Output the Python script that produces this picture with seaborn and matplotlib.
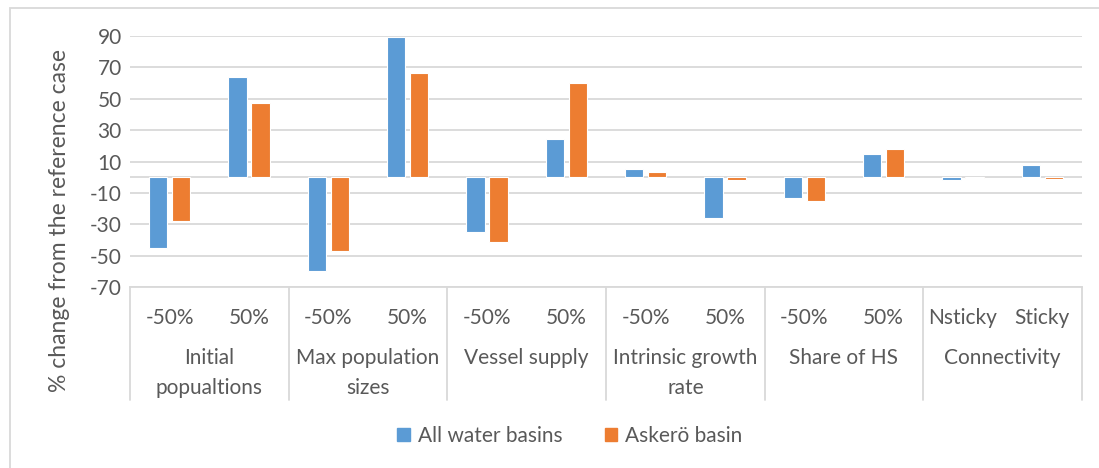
import numpy as np
import pandas as pd
import matplotlib
matplotlib.use("Agg")
import matplotlib.pyplot as plt
import matplotlib.patches as mpatches
import seaborn as sns

# Sensitivity analysis: % change from the reference case
groups = ["Initial\npopualtions", "Max population\nsizes", "Vessel supply",
          "Intrinsic growth\nrate", "Share of HS", "Connectivity"]
levels = ["-50%", "50%", "-50%", "50%", "-50%", "50%",
          "-50%", "50%", "-50%", "50%", "Nsticky", "Sticky"]
all_basins = [-45, 64, -60, 89.5, -35, 24.5, 5.5, -26, -13.5, 15, -2, 7.5]
askero = [-28, 47.5, -47, 66.5, -41.5, 60, 3, -2, -15, 18, -0.3, -1.2]
series = ["All water basins", "Askerö basin"]
colors = ["#5B9BD5", "#ED7D31"]

sns.set_theme(style="white")
plt.rcParams["font.family"] = ["Lato", "DejaVu Sans"]
plt.rcParams["axes.unicode_minus"] = False
TXT = "#595959"
GRID = "#d9d9d9"
FS = 15

slots = [f"{i:02d}" for i in range(len(levels))]
df = pd.DataFrame({
    "slot": slots * 2,
    "series": [series[0]] * len(slots) + [series[1]] * len(slots),
    "value": all_basins + askero,
})

fig = plt.figure(figsize=(10.99, 4.68), dpi=100)
W, H = 1099, 468
ax = fig.add_axes([130 / W, 1 - 287 / H, (1082 - 130) / W, (287 - 36) / H])

sns.barplot(data=df, x="slot", y="value", hue="series", order=slots,
            hue_order=series, palette=colors, width=0.58, gap=0.2,
            edgecolor="white", linewidth=0.8, saturation=1, ax=ax,
            legend=False, zorder=3)

ax.set_xlim(-0.5, len(slots) - 0.5)
ax.set_ylim(-70, 90)
ax.set_yticks(np.arange(-70, 91, 20))
ax.yaxis.grid(True, color=GRID, linewidth=1.3, zorder=0)
ax.axhline(0, color=GRID, linewidth=1.3, zorder=1)
for s in ["top", "right", "left"]:
    ax.spines[s].set_visible(False)
ax.spines["bottom"].set_color(GRID)
ax.spines["bottom"].set_linewidth(1.3)

ax.set_xticks(range(len(slots)))
ax.set_xticklabels(levels)
ax.tick_params(axis="x", length=0, pad=15, labelsize=FS, labelcolor=TXT)
ax.tick_params(axis="y", length=0, pad=6, labelsize=FS, labelcolor=TXT)
ax.set_xlabel("")
ax.set_ylabel("")

# group separators and group labels below the axis
xt = ax.get_xaxis_transform()
sep_depth = -(400 - 287) / (287 - 36)
for b in np.arange(-0.5, len(slots), 2):
    ax.plot([b, b], [0, sep_depth], transform=xt, color=GRID, lw=1.3,
            clip_on=False)
lab_y = -(348 - 287) / (287 - 36)
for g, name in enumerate(groups):
    ax.text(2 * g + 0.5, lab_y, name, transform=xt, ha="center", va="top",
            fontsize=FS, color=TXT, linespacing=1.65)

fig.text(60 / W, 1 - 220 / H, "% change from the reference case",
         rotation=90, ha="center", va="center", fontsize=16.5, color=TXT)

handles = [mpatches.Patch(color=c, label=s) for c, s in zip(colors, series)]
fig.legend(handles=handles, loc="center", bbox_to_anchor=(570 / W, 1 - 436 / H),
           ncol=2, frameon=False, fontsize=FS, labelcolor=TXT,
           handlelength=0.6, handleheight=0.6, handletextpad=0.4,
           columnspacing=2.0)

# outer chart border
fig.patches.append(mpatches.Rectangle((10 / W, -0.1), 1.2, 1 - 8 / H + 0.1,
                                      transform=fig.transFigure, fill=False,
                                      edgecolor=GRID, linewidth=1.3))

fig.savefig("out.png", dpi=100)
